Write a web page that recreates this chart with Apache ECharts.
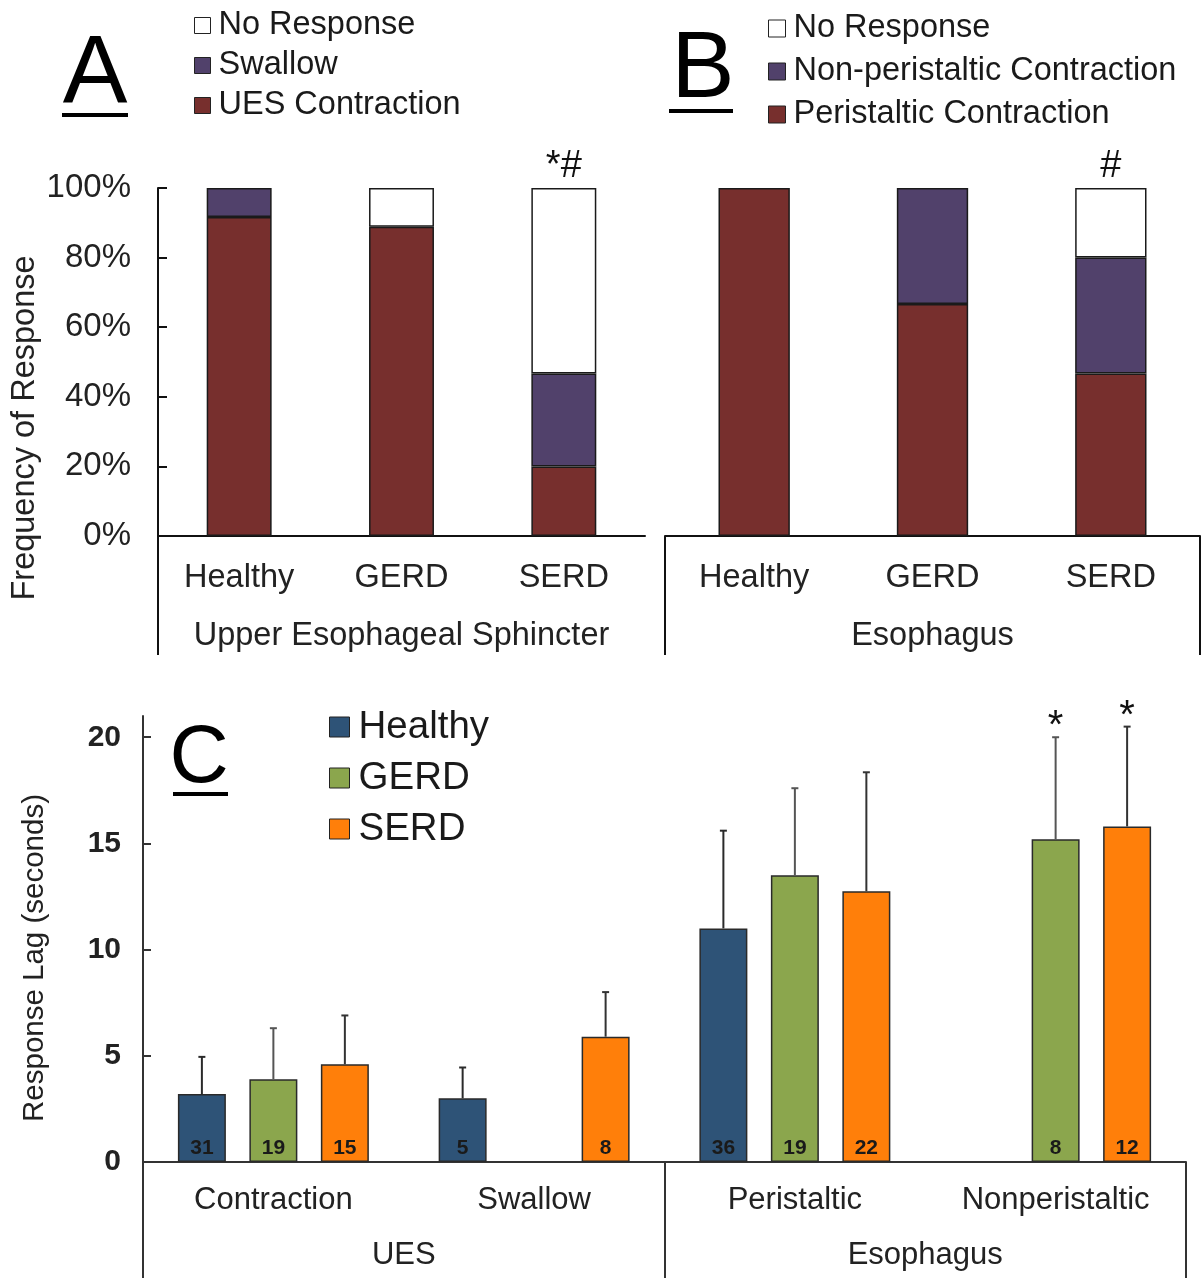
<!DOCTYPE html>
<html><head><meta charset="utf-8">
<script src="https://cdn.jsdelivr.net/npm/echarts@6/dist/echarts.min.js"></script>
<style>html,body{margin:0;padding:0;background:#fff}#c{width:1203px;height:1278px}</style>
</head><body><div id="c"></div>
<script>
// ---------- Panel A / B data (percent of responses) ----------
const groupsAB = ['Healthy', 'GERD', 'SERD'];
const uesContraction = [91.7, 88.9, 20.0];
const uesSwallow = [8.3, 0, 26.7];
const uesNoResponse = [0, 11.1, 53.3];
const esoPeristaltic = [100, 66.7, 46.7];
const esoNonPeristaltic = [0, 33.3, 33.3];
const esoNoResponse = [0, 0, 20.0];
const annotA = ['', '', '*#'];
const annotB = ['', '', '#'];
const pctTicks = [0, 20, 40, 60, 80, 100];
const groupA = ['Upper Esophageal Sphincter'];
const groupB = ['Esophagus'];

// ---------- Panel C data (response lag, seconds) ----------
const lagCategories = ['Contraction', 'Swallow', 'Peristaltic', 'Nonperistaltic'];
const lagGroups = ['UES', 'Esophagus'];
const lagHealthy = [3.2, 3.0, 11.0, null];
const lagGERD = [3.9, null, 13.5, 15.2];
const lagSERD = [4.6, 5.9, 12.75, 15.8];
const sdHealthy = [1.75, 1.45, 4.6, null];
const sdGERD = [2.4, null, 4.1, 4.8];
const sdSERD = [2.3, 2.1, 5.6, 4.7];
const nHealthy = [31, 5, 36, null];
const nGERD = [19, null, 19, 8];
const nSERD = [15, 8, 22, 12];
const starHealthy = ['', '', '', ''];
const starGERD = ['', '', '', '*'];
const starSERD = ['', '', '', '*'];
const lagTicks = [0, 5, 10, 15, 20];

// ---------- styling ----------
const FONT = "'Liberation Sans', Arial, Helvetica, sans-serif";
const MAROON = '#772F2D', PURPLE = '#51416B', WHITE = '#ffffff';
const C_HEALTHY = '#2E5377', C_GERD = '#8BA64D', C_SERD = '#FF7F0A';
const BAR_W = 0.184, BAR_GAP = 0.49;
const BORDER = '#1a1a1a';

const nz = a => a.map(v => (v === 0 ? null : v));

function stackBar(name, data, color, xi, yi, stack, annot) {
  const s = {
    name, type: 'bar', stack, xAxisIndex: xi, yAxisIndex: yi,
    data: nz(data), barWidth: '40%',
    itemStyle: { color, borderColor: BORDER, borderWidth: 1.5 },
    emphasis: { disabled: true }
  };
  if (annot) {
    s.label = {
      show: true, position: 'top', distance: 2,
      formatter: p => annot[p.dataIndex] || '',
      fontSize: 38, color: '#111', fontFamily: FONT
    };
  }
  return s;
}

function lagBar(name, data, nArr, color) {
  return {
    name, type: 'bar', xAxisIndex: 4, yAxisIndex: 2, data,
    barWidth: (BAR_W * 100) + '%', barGap: (BAR_GAP * 100) + '%',
    itemStyle: { color, borderColor: '#2a2a2a', borderWidth: 1.5 },
    emphasis: { disabled: true },
    label: {
      show: true, position: 'insideBottom', distance: 3,
      formatter: p => (nArr[p.dataIndex] == null ? '' : String(nArr[p.dataIndex])),
      fontSize: 21, fontWeight: 'bold', color: '#1a1a1a', fontFamily: FONT
    }
  };
}

function errSeries(idx, means, sds, stars, color) {
  return {
    name: 'err' + idx, type: 'custom', xAxisIndex: 4, yAxisIndex: 2, z: 3,
    data: means.map((m, i) => [i, m == null ? 0 : m, sds[i] == null ? 0 : sds[i]]),
    encode: { x: 0, y: 1 },
    silent: true,
    renderItem: function (params, api) {
      const i = params.dataIndex;
      const m = means[i], sd = sds[i];
      if (m == null || sd == null) return { type: 'group', children: [] };
      const band = api.size([1, 0])[0];
      const bw = band * BAR_W;
      const off = (idx - 1) * bw * (1 + BAR_GAP);
      const base = api.coord([i, m]);
      const top = api.coord([i, m + sd]);
      const x = base[0] + off;
      const children = [
        { type: 'line', shape: { x1: x, y1: base[1], x2: x, y2: top[1] }, style: { stroke: color, lineWidth: 2 } },
        { type: 'line', shape: { x1: x - 3.5, y1: top[1], x2: x + 3.5, y2: top[1] }, style: { stroke: color, lineWidth: 2 } }
      ];
      if (stars[i]) {
        children.push({ type: 'text', x: x, y: top[1] + 10,
          style: { text: stars[i], textAlign: 'center', textVerticalAlign: 'bottom', fontSize: 40, fontFamily: FONT, fill: '#111' } });
      }
      return { type: 'group', children };
    }
  };
}

const gA = { left: 158, top: 188, width: 487, height: 348 };
const gB = { left: 665, top: 188, width: 535, height: 348 };
const gC = { left: 143, top: 716, width: 1043, height: 446 };

const catLabel = (size, margin) => ({ fontSize: size, color: '#222', margin, fontFamily: FONT, interval: 0 });

const option = {
  animation: false,
  backgroundColor: '#fff',
  textStyle: { fontFamily: FONT },
  grid: [gA, gB, gC],
  legend: [
    { data: ['No Response', 'Swallow', 'UES Contraction'], orient: 'vertical', left: 194, top: 8, padding: 0,
      itemWidth: 16, itemHeight: 16, itemGap: 5, icon: 'rect', selectedMode: false,
      itemStyle: { borderColor: '#222', borderWidth: 1 },
      textStyle: { fontSize: 32.5, lineHeight: 35, color: '#1a1a1a', fontFamily: FONT, padding: [0, 0, 0, 3] } },
    { data: ['No Response', 'Non-peristaltic Contraction', 'Peristaltic Contraction'], orient: 'vertical', left: 768, top: 11, padding: 0,
      itemWidth: 17, itemHeight: 17, itemGap: 8, icon: 'rect', selectedMode: false,
      itemStyle: { borderColor: '#222', borderWidth: 1 },
      textStyle: { fontSize: 32.5, lineHeight: 35, color: '#1a1a1a', fontFamily: FONT, padding: [0, 0, 0, 3] } },
    { data: ['Healthy', 'GERD', 'SERD'], orient: 'vertical', left: 329, top: 706, padding: 0,
      itemWidth: 20, itemHeight: 20, itemGap: 9, icon: 'rect', selectedMode: false,
      itemStyle: { borderColor: '#222', borderWidth: 1 },
      textStyle: { fontSize: 38.5, lineHeight: 42, color: '#1a1a1a', fontFamily: FONT, padding: [0, 0, 0, 4] } }
  ],
  xAxis: [
    { gridIndex: 0, type: 'category', data: groupsAB,
      axisLine: { lineStyle: { color: '#111', width: 2 } }, axisTick: { show: false },
      axisLabel: catLabel(32.5, 26) },
    { gridIndex: 0, type: 'category', data: groupA, position: 'bottom',
      axisLine: { show: false }, axisTick: { show: false },
      axisLabel: catLabel(32.5, 84) },
    { gridIndex: 1, type: 'category', data: groupsAB,
      axisLine: { lineStyle: { color: '#111', width: 2 } }, axisTick: { show: false },
      axisLabel: catLabel(32.5, 26) },
    { gridIndex: 1, type: 'category', data: groupB, position: 'bottom',
      axisLine: { show: false },
      axisTick: { show: true, length: 119, lineStyle: { color: '#111', width: 2 } },
      axisLabel: catLabel(32.5, 84) },
    { gridIndex: 2, type: 'category', data: lagCategories,
      axisLine: { lineStyle: { color: '#333', width: 2 } }, axisTick: { show: false },
      axisLabel: catLabel(31, 23) },
    { gridIndex: 2, type: 'category', data: lagGroups, position: 'bottom',
      axisLine: { show: false },
      axisTick: { show: true, length: 116, lineStyle: { color: '#333', width: 2 } },
      axisLabel: catLabel(31, 78) }
  ],
  yAxis: [
    { gridIndex: 0, type: 'value', min: 0, max: 100, interval: 20,
      axisLine: { show: true, lineStyle: { color: '#111', width: 2 } },
      axisTick: { show: true, inside: true, length: 9, lineStyle: { color: '#111', width: 2 } },
      axisLabel: { formatter: '{value}%', fontSize: 33, color: '#222', margin: 27, fontFamily: FONT },
      splitLine: { show: false } },
    { gridIndex: 1, type: 'value', min: 0, max: 100, interval: 20, show: false, splitLine: { show: false } },
    { gridIndex: 2, type: 'value', min: 0, max: 21,
      axisLine: { show: true, lineStyle: { color: '#333', width: 2 } },
      axisTick: { show: true, inside: true, length: 8, customValues: lagTicks, lineStyle: { color: '#333', width: 2 } },
      axisLabel: { customValues: lagTicks, fontSize: 30, fontWeight: 'bold', color: '#222', margin: 22, fontFamily: FONT },
      splitLine: { show: false } }
  ],
  series: [
    stackBar('UES Contraction', uesContraction, MAROON, 0, 0, 'A'),
    stackBar('Swallow', uesSwallow, PURPLE, 0, 0, 'A'),
    stackBar('No Response', uesNoResponse, WHITE, 0, 0, 'A', annotA),
    stackBar('Peristaltic Contraction', esoPeristaltic, MAROON, 2, 1, 'B'),
    stackBar('Non-peristaltic Contraction', esoNonPeristaltic, PURPLE, 2, 1, 'B'),
    stackBar('No Response', esoNoResponse, WHITE, 2, 1, 'B', annotB),
    lagBar('Healthy', lagHealthy, nHealthy, C_HEALTHY),
    lagBar('GERD', lagGERD, nGERD, C_GERD),
    lagBar('SERD', lagSERD, nSERD, C_SERD),
    errSeries(0, lagHealthy, sdHealthy, starHealthy, '#2a2a2a'),
    errSeries(1, lagGERD, sdGERD, starGERD, '#555'),
    errSeries(2, lagSERD, sdSERD, starSERD, '#333')
  ],
  graphic: [
    { type: 'text', x: 95, y: 75, style: { text: 'A', fontSize: 97, fontFamily: FONT, fill: '#000', textAlign: 'center', textVerticalAlign: 'middle' } },
    { type: 'line', shape: { x1: 62, y1: 115, x2: 128, y2: 115 }, style: { stroke: '#000', lineWidth: 4 } },
    { type: 'text', x: 703, y: 71, style: { text: 'B', fontSize: 95, fontFamily: FONT, fill: '#000', textAlign: 'center', textVerticalAlign: 'middle' } },
    { type: 'line', shape: { x1: 669, y1: 111, x2: 733, y2: 111 }, style: { stroke: '#000', lineWidth: 4 } },
    { type: 'text', x: 199, y: 759, style: { text: 'C', fontSize: 82, fontFamily: FONT, fill: '#000', textAlign: 'center', textVerticalAlign: 'middle' } },
    { type: 'line', shape: { x1: 173, y1: 794, x2: 228, y2: 794 }, style: { stroke: '#000', lineWidth: 4 } },
    { type: 'text', x: 25, y: 428, rotation: Math.PI / 2, style: { text: 'Frequency of Response', fontSize: 32.5, fontFamily: FONT, fill: '#222', textAlign: 'center', textVerticalAlign: 'middle' } },
    { type: 'text', x: 35, y: 958, rotation: Math.PI / 2, style: { text: 'Response Lag (seconds)', fontSize: 29.5, fontFamily: FONT, fill: '#222', textAlign: 'center', textVerticalAlign: 'middle' } },
    { type: 'line', shape: { x1: gA.left, y1: gA.top + gA.height, x2: gA.left, y2: 655 }, style: { stroke: '#111', lineWidth: 2 } }
  ]
};

const chart = echarts.init(document.getElementById('c'), null, { renderer: 'canvas' });
chart.setOption(option);
</script>
</body></html>
